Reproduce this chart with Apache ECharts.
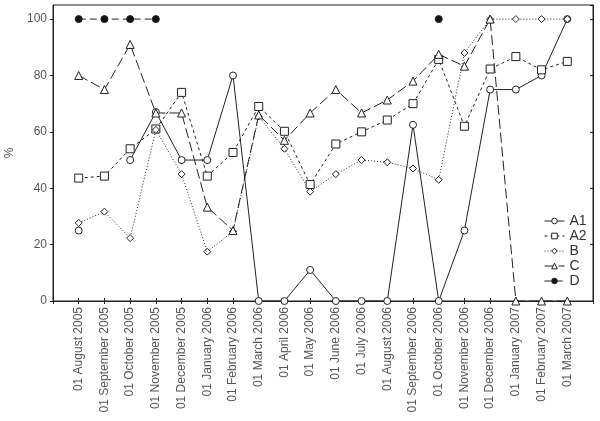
<!DOCTYPE html>
<html>
<head>
<meta charset="utf-8">
<script src="https://cdn.jsdelivr.net/npm/echarts@6/dist/echarts.min.js"></script>
<style>html,body{margin:0;padding:0;background:#fff;}#c{width:600px;height:421px;}</style>
</head>
<body>
<div id="c"></div>
<script>
var categories = ['01 August 2005','01 September 2005','01 October 2005','01 November 2005','01 December 2005','01 January 2006','01 February 2006','01 March 2006','01 April 2006','01 May 2006','01 June 2006','01 July 2006','01 August 2006','01 September 2006','01 October 2006','01 November 2006','01 December 2006','01 January 2007','01 February 2007','01 March 2007'];
var seriesNames = ['A1','A2','B','C','D'];
var A1 = [25, null, 50, 67, 50, 50, 80, 0, 0, 11, 0, 0, 0, 62.5, 0, 25, 75, 75, 80, 100];
var A2 = [43.6, 44.3, 54, 61, 74, 44.3, 52.7, 69, 60.2, 41.3, 55.7, 60, 64.2, 70, 85.7, 62, 82.3, 86.7, 82, 85];
var B  = [27.7, 31.7, 22.3, 60.7, 45, 17.5, 24.7, 65.5, 54, 38.8, 45, 50, 49.2, 47, 43, 88, 100, 100, 100, 100];
var C  = [80, 75, 91, 66.7, 66.7, 33.3, 25, 66, 57, 66.7, 75, 66.7, 71.3, 78, 87.5, 83.3, 100, 0, 0, 0];
var D  = [100, 100, 100, 100, null, null, null, null, null, null, null, null, null, null, 100, null, null, null, null, null];
var yTicks = [0, 20, 40, 60, 80, 100];
var yMax = 105;

function pad(arr){ return [null].concat(arr, [null]); }
var cats = [''].concat(categories, ['']);

var lineColor = '#222';

function mk(name, data, symbol, size, lineType, fill){
  return {
    name: name, type:'line', data: pad(data), symbol: symbol, symbolSize: size,
    showAllSymbol: true, connectNulls: false, animation:false,
    lineStyle:{color:lineColor, width: 1, type: lineType},
    itemStyle:{color: fill, borderColor: lineColor, borderWidth:1},
    emphasis:{disabled:true}
  };
}

var chart = echarts.init(document.getElementById('c'), null, {renderer:'canvas'});
chart.setOption({
  backgroundColor:'#fff',
  animation:false,
  grid:{left:53, right:7, top:5, bottom:120, show:true, borderColor:'#222', borderWidth:1, containLabel:false, outerBoundsMode:'none'},
  legend:{
    data: seriesNames,
    orient:'vertical', left:539, top:209, itemWidth:20, itemHeight:7, itemGap:1,
    itemStyle:{borderWidth:1},
    lineStyle:{width:1},
    textStyle:{fontFamily:'Liberation Sans', fontSize:14, lineHeight:14, color:'#333', padding:[0,0,0,0]}
  },
  xAxis:[{
    type:'category', data: cats, boundaryGap:false,
    axisLine:{lineStyle:{color:'#222'}},
    axisTick:{show:true, inside:true, length:3, lineStyle:{color:'#222'}, interval:0},
    axisLabel:{rotate:90, interval:0, margin:6, fontFamily:'Liberation Sans', fontSize:12, color:'#555'},
    splitLine:{show:false}
  },{
    type:'category', data: cats, boundaryGap:false, position:'top',
    axisLine:{lineStyle:{color:'#222'}},
    axisTick:{show:true, inside:true, length:3, lineStyle:{color:'#222'}, interval:0},
    axisLabel:{show:false}, splitLine:{show:false}
  }],
  yAxis:[{
    type:'value', min:0, max:yMax, interval:20,
    name:'%', nameLocation:'middle', nameGap:36, nameRotate:90,
    nameTextStyle:{fontFamily:'Liberation Sans', fontSize:12, color:'#555'},
    axisLine:{show:true, lineStyle:{color:'#222'}},
    axisTick:{show:true, inside:false, length:3, lineStyle:{color:'#222'}},
    axisLabel:{margin:6, fontFamily:'Liberation Sans', fontSize:12, color:'#555',
      showMaxLabel:false,
      formatter:function(v){ return yTicks.indexOf(v) >= 0 ? String(v) : ''; }},
    splitLine:{show:false}
  },{
    type:'value', min:0, max:yMax, interval:20, position:'right',
    axisLine:{show:true, lineStyle:{color:'#222'}},
    axisTick:{show:true, inside:true, length:3, lineStyle:{color:'#222'}},
    axisLabel:{show:false}, splitLine:{show:false}
  }],
  series:[
    mk('A1', A1, 'circle', 7, 'solid', '#fff'),
    mk('A2', A2, 'rect', 8, [3,3], '#fff'),
    mk('B', B, 'diamond', 7, [1,2], '#fff'),
    mk('C', C, 'triangle', 8, [10,4], '#fff'),
    mk('D', D, 'circle', 7, [7,4], '#111')
  ]
});
</script>
</body>
</html>
